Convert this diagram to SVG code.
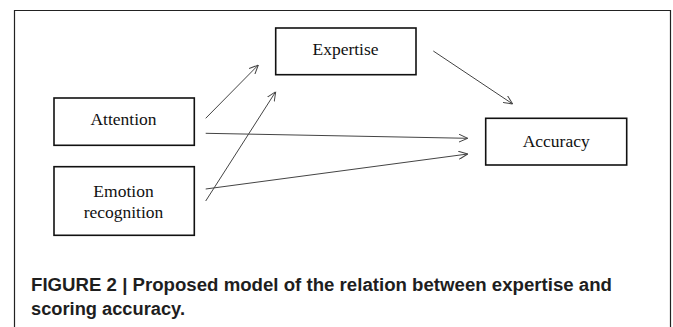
<svg xmlns="http://www.w3.org/2000/svg" width="673" height="327" viewBox="0 0 673 327">
<style>
.box{fill:#fff;stroke:#111;stroke-width:1.6}
.lbl{font-family:"Liberation Serif","Times New Roman",serif;font-size:17.5px;fill:#111;text-anchor:middle}
.con{stroke:#444;stroke-width:1;fill:none}
.cap{font-family:"Liberation Sans",Arial,sans-serif;font-weight:bold;font-size:18px;fill:#1e1e1e}
</style>
<defs>
<marker id="ah" viewBox="0 0 10 10" refX="10" refY="5" markerWidth="9" markerHeight="9" markerUnits="userSpaceOnUse" orient="auto">
<path d="M0,0.5 L10,5 L0,9.5" fill="none" stroke="#444" stroke-width="1.1"/>
</marker>
</defs>
<rect x="0" y="0" width="673" height="327" fill="#fff"/>
<path d="M14.5,327 V10.5 H670.5 V327" fill="none" stroke="#222" stroke-width="1.2"/>
<g id="connectors">
<line class="con" x1="205.7" y1="118.3" x2="258.3" y2="65" marker-end="url(#ah)"/>
<line class="con" x1="205.7" y1="201" x2="275.7" y2="91.7" marker-end="url(#ah)"/>
<line class="con" x1="205.7" y1="133.3" x2="467.7" y2="138.3" marker-end="url(#ah)"/>
<line class="con" x1="205.7" y1="189" x2="467.7" y2="154" marker-end="url(#ah)"/>
<line class="con" x1="433.3" y1="51" x2="512.7" y2="104" marker-end="url(#ah)"/>
</g>
<g id="expertise">
<rect class="box" x="275.7" y="28" width="140.3" height="46.7"/>
<text class="lbl" x="345.5" y="55">Expertise</text>
</g>
<g id="attention">
<rect class="box" x="54" y="98" width="140.3" height="47.3"/>
<text class="lbl" x="123.5" y="125">Attention</text>
</g>
<g id="emotion">
<rect class="box" x="54" y="166.7" width="140.3" height="68.6"/>
<text class="lbl" x="123.5" y="196.7">Emotion</text>
<text class="lbl" x="123.5" y="218.3">recognition</text>
</g>
<g id="accuracy">
<rect class="box" x="485.7" y="118.3" width="141" height="46.7"/>
<text class="lbl" x="556.2" y="146.7">Accuracy</text>
</g>
<g id="caption">
<text class="cap" x="31" y="290.7" textLength="581" lengthAdjust="spacingAndGlyphs">FIGURE 2 | Proposed model of the relation between expertise and</text>
<text class="cap" x="31" y="315" textLength="154" lengthAdjust="spacingAndGlyphs">scoring accuracy.</text>
</g>
</svg>
